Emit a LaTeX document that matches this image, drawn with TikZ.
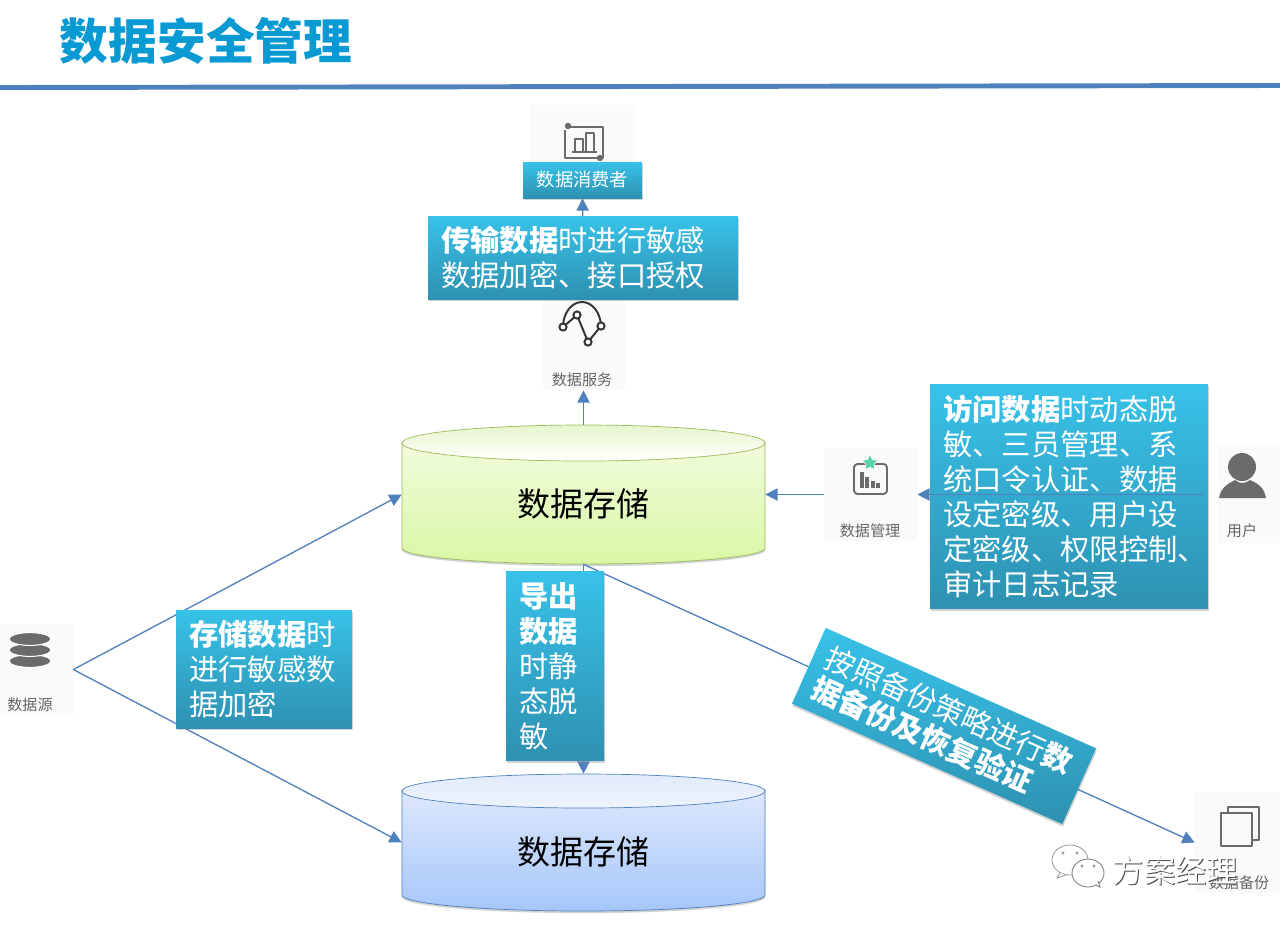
\documentclass[tikz,border=0pt]{standalone}
\usepackage{fontspec}
\setmainfont{Noto Sans CJK SC}
\usepackage{tikz}
\usetikzlibrary{arrows.meta,positioning,calc,shadows,shapes.geometric}

\definecolor{boxtop}{HTML}{38C2E9}
\definecolor{boxbot}{HTML}{2E91B1}
\definecolor{titleblue}{HTML}{0A9AD3}
\definecolor{linkblue}{HTML}{4F81BD}
\definecolor{tilegray}{HTML}{FAFAFA}
\definecolor{icongray}{HTML}{6B6B6E}
\definecolor{labelgray}{HTML}{666666}
\definecolor{starmint}{HTML}{55D2A6}
\definecolor{greenedge}{HTML}{9BBB59}
\definecolor{greentop}{HTML}{F0FBDA}
\definecolor{greenbot}{HTML}{D9F8A6}
\definecolor{greenlid}{HTML}{E6F6CC}
\definecolor{bluetop}{HTML}{DDE8FC}
\definecolor{bluebot}{HTML}{A6C6FA}
\definecolor{bluelid}{HTML}{E2EBFB}
\definecolor{bluelidb}{HTML}{EFF4FD}

\tikzset{
  link/.style={linkblue, line width=0.75pt, -{Triangle[length=7pt,width=7pt]}},
  tile/.style={fill=tilegray, inner sep=0pt},
  tiletext/.style={text=labelgray, font=\fontsize{8.6}{10}\selectfont},
  infobox/.style={shade, top color=boxtop, bottom color=boxbot, text=white,
    align=left, inner ysep=0pt, inner xsep=0.26cm,
    font=\fontsize{16.7}{20}\selectfont,
    drop shadow={shadow xshift=0.4pt, shadow yshift=-1.4pt, opacity=0.35}},
  storelabel/.style={text=black, font=\fontsize{18.8}{22}\selectfont,
    minimum width=7.26cm},
  iconline/.style={icongray, line width=1.2pt, line join=round},
}

% offset grey copy under the white letters
\newcommand{\embossed}[1]{\rlap{\kern0.5pt\raisebox{-0.6pt}{\color{black!70}#1}}#1}
% store caption sits a little under the middle of its node
\newcommand{\lowered}[1]{\raisebox{-0.19cm}[\height][\depth]{#1}}

\begin{document}
\begin{tikzpicture}[x=0.02cm, y=-0.02cm]
    \useasboundingbox (0,0) rectangle (1280,924);
    \fill[white] (0,0) rectangle (1280,924);

    % Title
    \node[text=titleblue, font=\fontsize{27.7}{30}\selectfont\bfseries] (title) at (206,41) {数据安全管理};
    \draw[linkblue, line width=2.8pt] (0,87.5) -- (1280,85.5);

    % Icon tiles
    \node[tile, minimum width=2.12cm, minimum height=1.5cm] (consumertile) at (583,142) {};
    \node[tile, minimum width=1.64cm, minimum height=1.8cm] (service) at (583.5,345) {};
    \node[tile, minimum width=1.86cm, minimum height=1.86cm] (manage) at (870.5,494.5) {};
    \node[tile, minimum width=1.24cm, minimum height=1.96cm] (user) at (1249,494) {};
    \node[tile, minimum width=1.46cm, minimum height=1.82cm] (source) at (36.5,669.5) {};
    \node[tile, minimum width=1.72cm, minimum height=2.02cm] (backup) at (1238,842.5) {};

    \node[tiletext] (servicetext) at (582,380) {数据服务};
    \node[tiletext] (managetext) at (870,531) {数据管理};
    \node[tiletext] (usertext) at (1242,531) {用户};
    \node[tiletext] (sourcetext) at (30,705) {数据源};
    \node[tiletext] (backuptext) at (1239,883) {数据备份};

    % Consumer icon
    \draw[iconline] (568,127) -- (603,127) -- (603,158) -- (565,158) -- (565,130);
    \fill[icongray] (568,126) circle (3.2) (600,158) circle (3.2);
    \draw[iconline, line width=0.9pt] (572,152) -- (597,152);
    \draw[iconline, line width=0.9pt] (575,152) -- (575,139) -- (583,139) -- (583,152);
    \draw[iconline, line width=0.9pt] (586,152) -- (586,133) -- (594,133) -- (594,152);

    % Service icon
    \draw[black!80, line width=1.1pt] (563,327) arc[start angle=180, end angle=360, x radius=19, y radius=25];
    \draw[black!80, line width=1.1pt] (563,327) -- (577,315) -- (588,342) -- (601,326);
    \foreach \cx/\cy in {563/327, 577/315, 588/342, 601/326}
        \draw[black!80, line width=1.1pt, fill=white] (\cx,\cy) circle (3.6);

    % Management icon
    \draw[iconline, rounded corners=2pt, line width=1.1pt] (854,464) rectangle (887,494);
    \foreach \bx/\by in {862/472, 867/477, 873/481, 878/483}
        \draw[icongray, line width=2pt] (\bx,488) -- (\bx,\by);
    \node[star, star points=5, star point ratio=2, fill=starmint, draw=white, inner sep=0pt, minimum size=0.34cm] (managestar) at (870,463) {};

    % User icon
    \fill[icongray] (1242,467) circle (14);
    \fill[icongray] (1219,498) .. controls (1221,486) and (1230,483) .. (1235,480)
        .. controls (1240,484) and (1245,484) .. (1250,480)
        .. controls (1256,483) and (1264,486) .. (1266,498) -- cycle;

    % Source icon
    \foreach \sy in {661,650,639}
        \draw[white, fill=icongray, line width=0.6pt] (30,\sy) ellipse [x radius=21, y radius=6.4];

    % Backup icon
    \draw[iconline, line width=1.3pt] (1228,813) -- (1228,807) -- (1259,807) -- (1259,840) -- (1252,840);
    \draw[iconline, line width=1.3pt] (1221,813) rectangle (1252,846);

    % Upper store
    \shade[top color=greentop, bottom color=greenbot, draw=greenedge,
        drop shadow={shadow xshift=0pt, shadow yshift=-1.2pt, opacity=0.35}]
        (402,443) -- (402,548) arc[start angle=180, end angle=0, x radius=181.5, y radius=16] -- (765,443) -- cycle;
    \shade[top color=greenlid, bottom color=white, draw=greenedge]
        (583.5,443) ellipse [x radius=181.5, y radius=18];
    \node[storelabel, minimum height=2.78cm] (store) at (583.5,494.5) {\lowered{数据存储}};

    % Lower store
    \shade[top color=bluetop, bottom color=bluebot, draw=linkblue,
        drop shadow={shadow xshift=0pt, shadow yshift=-1.2pt, opacity=0.35}]
        (402,790) -- (402,895) arc[start angle=180, end angle=0, x radius=181.5, y radius=16] -- (765,790) -- cycle;
    \shade[top color=bluelid, bottom color=bluelidb, draw=linkblue]
        (583.5,791) ellipse [x radius=181.5, y radius=17];
    \node[storelabel, minimum height=2.74cm] (archive) at (583.5,842.5) {\lowered{数据存储}};

    % Connectors
    \coordinate (fork) at (source.east);
    \coordinate (userout) at (1203,494.5);
    \draw[link] (fork) -- (store.west);
    \draw[link] (fork) -- (archive.west);
    \draw[link] (store.north) -- (service.south);
    \draw[link] (manage.west) -- (store.east);
    \draw[link] (store.south) -- (archive.north);
    \draw[link] (store.south) -- (backup.west);

    % Text boxes
    \node[infobox, text width=2.38cm, minimum height=0.72cm, inner xsep=0pt, align=center,
        font=\fontsize{10.4}{12}\selectfont] (consumer) at (582.5,180) {数据消费者};
    \draw[link] (service.north) -- (consumer.south);
    \node[infobox, text width=5.68cm, minimum height=1.66cm] (transfertext) at (583,257.5)
        {\textbf{传输数据}时进行敏感\\数据加密、接口授权};
    \node[infobox, text width=5.04cm, minimum height=4.5cm] (accesstext) at (1069,496.5)
        {\textbf{访问数据}时动态脱\\敏、三员管理、系\\统口令认证、数据\\设定密级、用户设\\定密级、权限控制、\\审计日志记录};
    \draw[link] (userout) -- (manage.east);
    \node[infobox, text width=3cm, minimum height=2.36cm] (storetext) at (264,669)
        {\textbf{存储数据}时\\进行敏感数\\据加密};
    \node[infobox, text width=1.44cm, minimum height=3.8cm] (exporttext) at (555,666)
        {\textbf{导出}\\\textbf{数据}\\时静\\态脱\\敏};
    \node[infobox, rotate=-24, text width=5.4cm, minimum height=1.66cm,
        font=\fontsize{16.9}{19}\selectfont, align=left] (backuptip) at (944,726)
        {按照备份策略进行\textbf{数}\\\textbf{据备份及恢复验证}};

    % Watermark
    \draw[black!45, fill=white, line width=0.4pt] (1070,860) ellipse [x radius=18, y radius=15];
    \draw[black!45, fill=white, line width=0.4pt] (1060,873) -- (1057,878) -- (1066,875);
    \draw[black!50, fill=white, line width=0.5pt] (1088,873) ellipse [x radius=16, y radius=14];
    \draw[black!50, fill=white, line width=0.5pt] (1096,885) -- (1100,887) -- (1098,881);
    \fill[black!40] (1063,853) circle (1.6) (1077,853) circle (1.6) (1082,866) circle (1.6) (1094,866) circle (1.6);
    \node[text=white, font=\fontsize{17.8}{20}\selectfont] (mark) at (1175.5,871) {\embossed{方案经理}};
\end{tikzpicture}
\end{document}
